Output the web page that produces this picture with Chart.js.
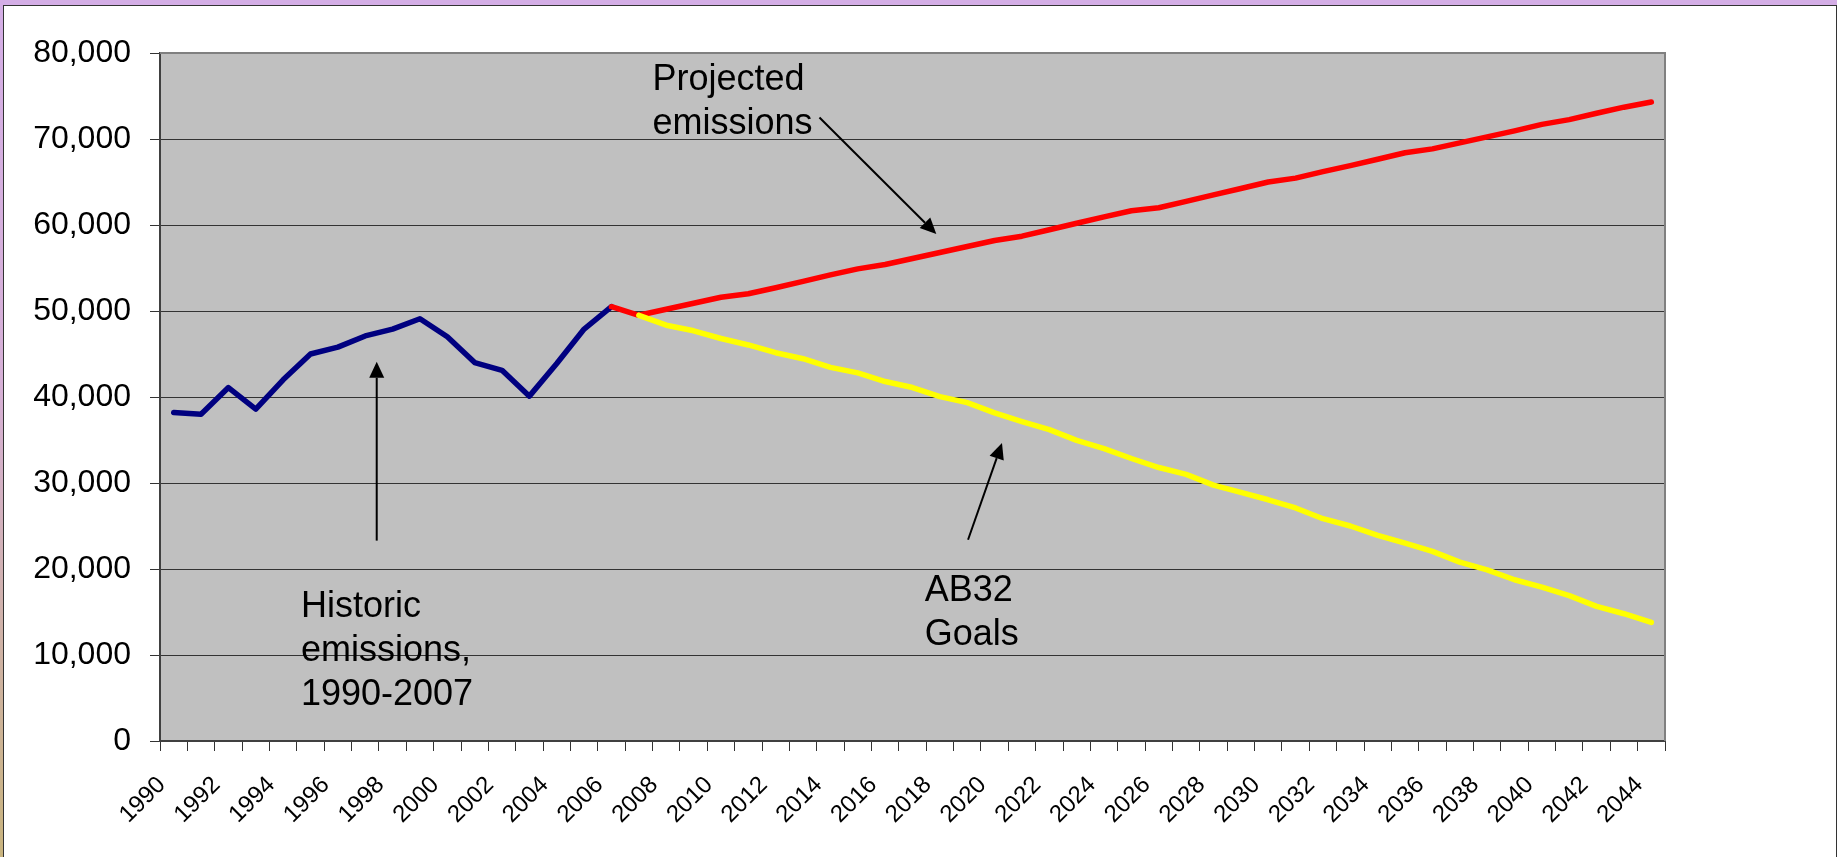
<!DOCTYPE html>
<html>
<head>
<meta charset="utf-8">
<script src="https://cdn.jsdelivr.net/npm/chart.js@4.4.0/dist/chart.umd.min.js"></script>
<style>
  html, body { margin: 0; padding: 0; }
  body {
    width: 1837px;
    height: 857px;
    overflow: hidden;
    position: relative;
    background: linear-gradient(to bottom, #d4aee6 0%, #d6b0d6 45%, #c9b47e 100%);
  }
  .frame {
    position: absolute;
    left: 3px;
    top: 5px;
    right: 0;
    bottom: -10px;
    background: #fff;
    border: 1px solid #333;
  }
  #emissionsChart { position: absolute; left: 0; top: 0; }
</style>
</head>
<body>
<div class="frame"></div>
<canvas id="emissionsChart" width="1837" height="857"></canvas>
<script>
const years = [
  '1990', '1991', '1992', '1993', '1994', '1995', '1996', '1997', '1998', '1999',
  '2000', '2001', '2002', '2003', '2004', '2005', '2006', '2007', '2008', '2009',
  '2010', '2011', '2012', '2013', '2014', '2015', '2016', '2017', '2018', '2019',
  '2020', '2021', '2022', '2023', '2024', '2025', '2026', '2027', '2028', '2029',
  '2030', '2031', '2032', '2033', '2034', '2035', '2036', '2037', '2038', '2039',
  '2040', '2041', '2042', '2043', '2044'
];

// historic 1990-2006
const historicStart = '1990';
const historic = [
  38200, 38000, 41100, 38600, 42000, 45000, 45800, 47100, 47900, 49100,
  47000, 44000, 43100, 40100, 43900, 47900, 50500
];

// projected 2006-2044
const projectedStart = '2006';
const projected = [
  50500, 49500, 50200, 50900, 51600, 52000, 52700, 53450, 54200, 54900,
  55400, 56100, 56800, 57500, 58200, 58700, 59450, 60200, 60950, 61650,
  62000, 62750, 63500, 64250, 65000, 65450, 66200, 66900, 67650, 68400,
  68850, 69550, 70250, 70950, 71700, 72250, 73000, 73700, 74300
];

// AB32 goals 2007-2044
const goalsStart = '2007';
const goals = [
  49500, 48350, 47700, 46800, 46050, 45150, 44450, 43450, 42800, 41800,
  41100, 40050, 39350, 38150, 37150, 36200, 34950, 34000, 32850, 31800,
  31000, 29750, 28900, 28050, 27100, 25850, 25000, 23900, 23000, 22050,
  20800, 19900, 18750, 17900, 16900, 15650, 14800, 13800
];

const yMin = 0;
const yMax = 80000;
const yStep = 10000;

// place a series on the full year axis
function onYears(start, values) {
  const out = years.map(() => null);
  const first = years.indexOf(start);
  values.forEach((v, i) => { out[first + i] = v; });
  return out;
}

const notes = [
  { lines: ['Projected', 'emissions'], year: 2007.5, value: 75700 },
  { lines: ['Historic', 'emissions,', '1990-2007'], year: 1994.65, value: 14400 },
  { lines: ['AB32', 'Goals'], year: 2017.45, value: 16300 }
];

const arrows = [
  { from: [2013.6, 72500], to: [2017.87, 58950] },
  { from: [1997.42, 23300], to: [1997.42, 44100] },
  { from: [2019.03, 23400], to: [2020.27, 34650] }
];

const fontFamily = "'Liberation Sans', Arial, sans-serif";

const plotStyle = {
  id: 'plotStyle',
  beforeDraw(chart) {
    const { ctx, chartArea: a } = chart;
    ctx.save();
    ctx.fillStyle = '#c0c0c0';
    ctx.fillRect(a.left, a.top, a.right - a.left, a.bottom - a.top);
    ctx.restore();
  },
  beforeDatasetsDraw(chart) {
    const { ctx, chartArea: a } = chart;
    ctx.save();
    ctx.strokeStyle = '#808080';
    ctx.lineWidth = 2;
    ctx.beginPath();
    ctx.moveTo(a.left, a.top);
    ctx.lineTo(a.right, a.top);
    ctx.lineTo(a.right, a.bottom);
    ctx.stroke();
    ctx.restore();
  },
  afterDraw(chart) {
    const { ctx } = chart;
    const sx = chart.scales.x;
    const sy = chart.scales.y;
    const px = (year, value) => [
      sx.getPixelForValue(year - Number(years[0])),
      sy.getPixelForValue(value)
    ];

    ctx.save();
    ctx.fillStyle = '#000';
    ctx.font = '36px ' + fontFamily;
    ctx.textAlign = 'left';
    ctx.textBaseline = 'alphabetic';
    notes.forEach(n => {
      const [x, y] = px(n.year, n.value);
      n.lines.forEach((line, i) => ctx.fillText(line, x, y + i * 44));
    });

    ctx.strokeStyle = '#000';
    ctx.lineWidth = 2;
    arrows.forEach(a => {
      const [x1, y1] = px(a.from[0], a.from[1]);
      const [x2, y2] = px(a.to[0], a.to[1]);
      const ang = Math.atan2(y2 - y1, x2 - x1);
      const len = 16;
      const half = 7.5;
      const bx = x2 - len * Math.cos(ang);
      const by = y2 - len * Math.sin(ang);
      ctx.beginPath();
      ctx.moveTo(x1, y1);
      ctx.lineTo(bx, by);
      ctx.stroke();
      ctx.beginPath();
      ctx.moveTo(x2, y2);
      ctx.lineTo(bx + half * Math.sin(ang), by - half * Math.cos(ang));
      ctx.lineTo(bx - half * Math.sin(ang), by + half * Math.cos(ang));
      ctx.closePath();
      ctx.fill();
    });
    ctx.restore();
  }
};

Chart.defaults.font.family = fontFamily;
Chart.defaults.color = '#000';

const lineStyle = {
  borderWidth: 5.5,
  pointRadius: 0,
  pointHoverRadius: 0,
  tension: 0,
  borderCapStyle: 'round',
  borderJoinStyle: 'round',
  fill: false
};

new Chart(document.getElementById('emissionsChart').getContext('2d'), {
  type: 'line',
  data: {
    labels: years,
    datasets: [
      { ...lineStyle, label: 'Historic emissions', data: onYears(historicStart, historic), borderColor: '#000080', order: 2 },
      { ...lineStyle, label: 'Projected emissions', data: onYears(projectedStart, projected), borderColor: '#ff0000', order: 1 },
      { ...lineStyle, label: 'AB32 Goals', data: onYears(goalsStart, goals), borderColor: '#ffff00', order: 0 }
    ]
  },
  options: {
    responsive: false,
    animation: false,
    devicePixelRatio: 1,
    layout: {
      padding: { top: 53, right: 172, left: 0, bottom: 0 }
    },
    plugins: {
      legend: { display: false },
      tooltip: { enabled: false }
    },
    scales: {
      x: {
        type: 'category',
        offset: true,
        afterFit(scale) { scale.height = 116; },
        grid: {
          drawOnChartArea: false,
          offset: true,
          tickLength: 10,
          color: '#333',
          lineWidth: 1
        },
        border: { color: '#404040', width: 2 },
        ticks: {
          autoSkip: false,
          minRotation: 45,
          maxRotation: 45,
          padding: 20,
          labelOffset: -12,
          font: { size: 24 },
          callback: (value, index) => (index % 2 === 0 ? years[index] : '')
        }
      },
      y: {
        min: yMin,
        max: yMax,
        afterFit(scale) { scale.width = 160; },
        grid: {
          color: '#333',
          lineWidth: 1,
          tickLength: 10,
          tickColor: '#333'
        },
        border: { color: '#404040', width: 2 },
        ticks: {
          stepSize: yStep,
          padding: 19,
          font: { size: 32 },
          callback: value => value.toLocaleString('en-US')
        }
      }
    }
  },
  plugins: [plotStyle]
});
</script>
</body>
</html>
